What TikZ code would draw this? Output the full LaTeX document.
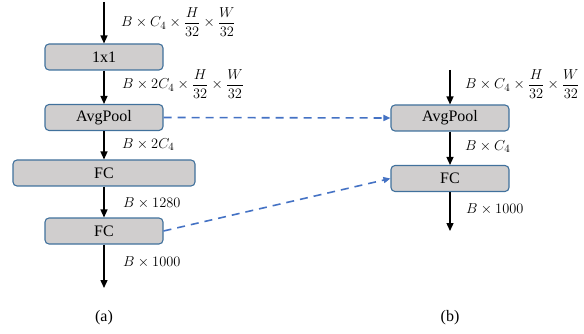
\documentclass[tikz,border=0pt]{standalone}
\usepackage{amsmath}
\usepackage{fontspec}
\setmainfont{Liberation Serif}
\usetikzlibrary{arrows.meta}
\definecolor{boxfill}{HTML}{D0CECE}
\definecolor{boxline}{HTML}{41719C}
\definecolor{dashblue}{HTML}{4472C4}
\begin{document}
\begin{tikzpicture}[x=1pt,y=-1pt,
  blk/.style={draw=boxline,line width=1.1pt,fill=boxfill,rounded corners=4pt,
    minimum height=26pt,inner sep=0pt,font=\fontsize{16}{18}\selectfont},
  flow/.style={-{Triangle[length=8pt,width=7pt]},line width=1.4pt,black},
  skip/.style={-{Triangle[length=7pt,width=6pt]},dashblue,line width=1.6pt,dash pattern=on 8pt off 6pt},
  lbl/.style={anchor=west,inner sep=0pt,font=\fontsize{15.5}{17}\selectfont},
  subcap/.style={font=\fontsize{16}{18}\selectfont}]
\useasboundingbox (0,0) rectangle (584,334);
% left column
\coordinate (ltop) at (104,2);
\node[blk,minimum width=118pt] (c1) at (104,57) {1x1};
\node[blk,minimum width=118pt] (ap1) at (104,117.5) {AvgPool};
\node[blk,minimum width=182pt] (fc1) at (104,173) {FC};
\node[blk,minimum width=118pt] (fc2) at (104,231) {FC};
\coordinate (lbot) at (104,288);
\draw[flow] (ltop) -- (c1);
\draw[flow] (c1) -- (ap1);
\draw[flow] (ap1) -- (fc1);
\draw[flow] (fc1) -- (fc2);
\draw[flow] (fc2) -- (lbot);
\node[lbl] (l1) at (121,22) {$B\times C_4\times\dfrac{H}{32}\times\dfrac{W}{32}$};
\node[lbl] (l2) at (122,84) {$B\times 2C_4\times\dfrac{H}{32}\times\dfrac{W}{32}$};
\node[lbl] (l3) at (122,145) {$B\times 2C_4$};
\node[lbl] (l4) at (123,203) {$B\times 1280$};
\node[lbl] (l5) at (123,262) {$B\times 1000$};
\node[subcap] (ca) at (104,318) {(a)};
% right column
\coordinate (rtop) at (450,70);
\node[blk,minimum width=118pt] (ap2) at (450,118) {AvgPool};
\node[blk,minimum width=118pt] (fc3) at (450,178.5) {FC};
\coordinate (rbot) at (450,231);
\draw[flow] (rtop) -- (ap2);
\draw[flow] (ap2) -- (fc3);
\draw[flow] (fc3) -- (rbot);
\node[lbl] (r1) at (465,84) {$B\times C_4\times\dfrac{H}{32}\times\dfrac{W}{32}$};
\node[lbl] (r2) at (465,147) {$B\times C_4$};
\node[lbl] (r3) at (466,209) {$B\times 1000$};
\node[subcap] (cb) at (450,318) {(b)};
% skip connections
\draw[skip] (ap1.east) -- (ap2.west);
\draw[skip] (fc2.east) -- (fc3.west);
\end{tikzpicture}
\end{document}
